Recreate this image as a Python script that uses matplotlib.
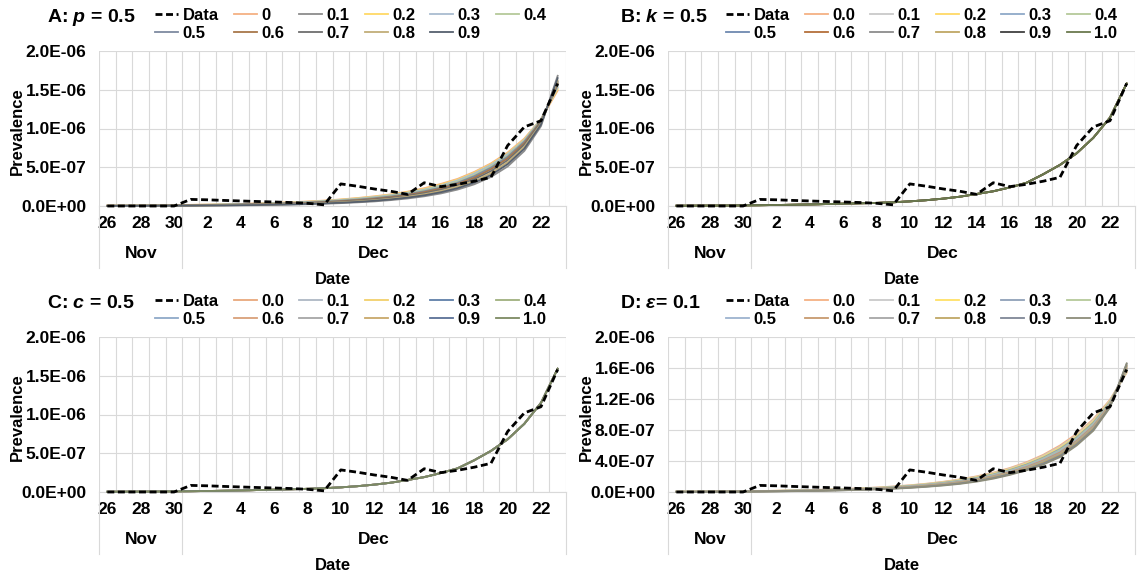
import matplotlib
matplotlib.use("Agg")
import matplotlib.pyplot as plt
from matplotlib import transforms
from matplotlib.ticker import FuncFormatter, MultipleLocator

plt.rcParams['font.family'] = ['Liberation Sans', 'DejaVu Sans']
plt.rcParams['font.weight'] = 'bold'
plt.rcParams['mathtext.fontset'] = 'custom'
plt.rcParams['mathtext.rm'] = 'Liberation Sans:bold'
plt.rcParams['mathtext.it'] = 'Liberation Sans:italic:bold'

# days Nov 26 .. Dec 23, index 0..27
day_labels = ['26', '28', '30', '2', '4', '6', '8', '10', '12', '14', '16', '18', '20', '22']
months = ['Nov', 'Dec']
month_span = [(0, 4), (5, 27)]

# observed prevalence (x 1e-7)
observed = [0, 0, 0, 0, 0, 0.85, 0.8, 0.72, 0.65, 0.58, 0.52, 0.45, 0.35, 0.15,
            2.85, 2.55, 2.2, 1.9, 1.5, 3.0, 2.5, 2.8, 3.2, 3.7, 7.8, 10.2, 11.0, 15.8]

# model runs (x 1e-7)
a_names = ['0', '0.1', '0.2', '0.3', '0.4', '0.5', '0.6', '0.7', '0.8', '0.9']
a_runs = [
    [0.05, 0.06, 0.08, 0.10, 0.12, 0.15, 0.18, 0.22, 0.27, 0.33, 0.40, 0.48, 0.58, 0.70, 0.85, 1.03, 1.25, 1.5, 1.85, 2.3, 2.85, 3.5, 4.4, 5.5, 6.9, 8.7, 11.2, 14.9],
    [0.01, 0.01, 0.02, 0.02, 0.03, 0.04, 0.05, 0.07, 0.09, 0.11, 0.14, 0.18, 0.23, 0.29, 0.37, 0.47, 0.59, 0.76, 0.97, 1.25, 1.62, 2.12, 2.8, 3.75, 5.1, 7.1, 10.3, 16.8],
    [0.04, 0.05, 0.07, 0.09, 0.11, 0.14, 0.17, 0.21, 0.25, 0.31, 0.38, 0.46, 0.55, 0.67, 0.82, 1.0, 1.2, 1.46, 1.8, 2.2, 2.75, 3.4, 4.3, 5.4, 6.8, 8.6, 11.2, 15.1],
    [0.04, 0.05, 0.06, 0.08, 0.10, 0.13, 0.16, 0.19, 0.24, 0.29, 0.36, 0.43, 0.52, 0.64, 0.78, 0.95, 1.15, 1.4, 1.72, 2.12, 2.65, 3.3, 4.2, 5.3, 6.7, 8.5, 11.2, 15.3],
    [0.03, 0.04, 0.06, 0.07, 0.09, 0.12, 0.14, 0.18, 0.22, 0.27, 0.33, 0.40, 0.49, 0.60, 0.73, 0.89, 1.08, 1.32, 1.63, 2.02, 2.52, 3.15, 4.0, 5.1, 6.5, 8.4, 11.1, 15.5],
    [0.03, 0.04, 0.05, 0.06, 0.08, 0.10, 0.13, 0.16, 0.20, 0.25, 0.30, 0.37, 0.45, 0.55, 0.67, 0.82, 1.0, 1.23, 1.53, 1.9, 2.38, 3.0, 3.85, 4.95, 6.35, 8.3, 11.0, 15.6],
    [0.03, 0.03, 0.04, 0.05, 0.07, 0.09, 0.11, 0.14, 0.18, 0.22, 0.27, 0.33, 0.40, 0.49, 0.61, 0.75, 0.92, 1.14, 1.42, 1.78, 2.24, 2.85, 3.65, 4.75, 6.15, 8.1, 10.9, 15.8],
    [0.02, 0.03, 0.04, 0.05, 0.06, 0.08, 0.10, 0.12, 0.15, 0.19, 0.24, 0.29, 0.36, 0.44, 0.55, 0.68, 0.84, 1.05, 1.31, 1.65, 2.1, 2.68, 3.45, 4.5, 5.9, 7.9, 10.8, 16.0],
    [0.02, 0.02, 0.03, 0.04, 0.05, 0.07, 0.08, 0.10, 0.13, 0.16, 0.20, 0.25, 0.31, 0.39, 0.48, 0.60, 0.75, 0.94, 1.19, 1.51, 1.93, 2.48, 3.22, 4.25, 5.65, 7.65, 10.6, 16.2],
    [0.01, 0.02, 0.02, 0.03, 0.04, 0.05, 0.07, 0.08, 0.11, 0.13, 0.17, 0.21, 0.27, 0.34, 0.42, 0.53, 0.67, 0.85, 1.08, 1.38, 1.78, 2.3, 3.02, 4.0, 5.4, 7.4, 10.5, 16.5],
]
a_colors = ['#F4B183', '#8C8C8C', '#FFD966', '#A9BCD0', '#B5C99A', '#7E8AA0',
            '#A8774A', '#6E6E6E', '#C2AE78', '#56606E']

bcd_names = ['0.0', '0.1', '0.2', '0.3', '0.4', '0.5', '0.6', '0.7', '0.8', '0.9', '1.0']
b_model = [0.03, 0.04, 0.05, 0.06, 0.08, 0.10, 0.13, 0.16, 0.20, 0.25, 0.30, 0.35, 0.40, 0.48,
           0.60, 0.75, 0.95, 1.2, 1.55, 1.9, 2.4, 3.0, 4.1, 5.3, 6.8, 8.8, 11.4, 15.8]
b_colors = ['#F4B183', '#C9C9C9', '#FFD966', '#8FA9C8', '#B5C99A', '#6E89B0',
            '#B4703A', '#8C8C8C', '#BFA765', '#404040', '#6B7A4E']

c_model = [0.03, 0.04, 0.05, 0.06, 0.08, 0.10, 0.13, 0.16, 0.20, 0.25, 0.30, 0.35, 0.41, 0.49,
           0.60, 0.75, 0.95, 1.2, 1.55, 1.92, 2.45, 3.05, 4.1, 5.3, 6.8, 8.8, 11.5, 15.9]
c_colors = ['#E8A87C', '#AEB8C4', '#F2D06B', '#5F7FA8', '#9FB07E', '#8FA9C8',
            '#D9A07A', '#A6A6A6', '#C8A86A', '#5B7196', '#7D8A62']

d_runs = [
    [0.04, 0.05, 0.06, 0.08, 0.10, 0.13, 0.16, 0.20, 0.25, 0.31, 0.38, 0.47, 0.58, 0.71, 0.87, 1.07, 1.32, 1.63, 2.02, 2.5, 3.1, 3.85, 4.8, 6.0, 7.5, 9.4, 11.9, 15.4],
    [0.04, 0.05, 0.06, 0.08, 0.10, 0.12, 0.15, 0.19, 0.24, 0.30, 0.37, 0.45, 0.56, 0.69, 0.84, 1.04, 1.28, 1.58, 1.96, 2.43, 3.02, 3.75, 4.68, 5.85, 7.35, 9.25, 11.8, 15.5],
    [0.04, 0.05, 0.06, 0.07, 0.09, 0.12, 0.15, 0.18, 0.23, 0.28, 0.35, 0.43, 0.53, 0.66, 0.81, 1.0, 1.24, 1.53, 1.9, 2.36, 2.93, 3.65, 4.56, 5.7, 7.2, 9.1, 11.7, 15.6],
    [0.03, 0.04, 0.05, 0.07, 0.09, 0.11, 0.14, 0.17, 0.22, 0.27, 0.33, 0.41, 0.51, 0.63, 0.78, 0.96, 1.19, 1.47, 1.83, 2.28, 2.84, 3.55, 4.44, 5.55, 7.05, 8.95, 11.6, 15.7],
    [0.03, 0.04, 0.05, 0.06, 0.08, 0.11, 0.13, 0.17, 0.21, 0.26, 0.32, 0.39, 0.49, 0.60, 0.75, 0.92, 1.14, 1.41, 1.76, 2.2, 2.75, 3.45, 4.32, 5.4, 6.9, 8.8, 11.5, 15.8],
    [0.03, 0.04, 0.05, 0.06, 0.08, 0.10, 0.13, 0.16, 0.20, 0.25, 0.30, 0.37, 0.46, 0.57, 0.71, 0.88, 1.09, 1.35, 1.69, 2.12, 2.66, 3.34, 4.2, 5.25, 6.75, 8.65, 11.4, 15.9],
    [0.03, 0.03, 0.04, 0.06, 0.07, 0.09, 0.12, 0.15, 0.19, 0.23, 0.29, 0.35, 0.44, 0.54, 0.67, 0.84, 1.04, 1.29, 1.62, 2.04, 2.57, 3.23, 4.07, 5.1, 6.6, 8.5, 11.3, 16.0],
    [0.02, 0.03, 0.04, 0.05, 0.07, 0.09, 0.11, 0.14, 0.17, 0.22, 0.27, 0.33, 0.41, 0.51, 0.64, 0.79, 0.99, 1.23, 1.55, 1.96, 2.48, 3.12, 3.94, 4.95, 6.45, 8.35, 11.2, 16.2],
    [0.02, 0.03, 0.04, 0.05, 0.06, 0.08, 0.10, 0.13, 0.16, 0.20, 0.25, 0.31, 0.39, 0.48, 0.60, 0.75, 0.94, 1.17, 1.48, 1.88, 2.39, 3.01, 3.81, 4.8, 6.3, 8.2, 11.1, 16.3],
    [0.02, 0.02, 0.03, 0.04, 0.05, 0.07, 0.09, 0.12, 0.15, 0.19, 0.23, 0.29, 0.36, 0.45, 0.57, 0.71, 0.89, 1.11, 1.41, 1.8, 2.3, 2.9, 3.68, 4.65, 6.15, 8.05, 11.0, 16.5],
    [0.02, 0.02, 0.03, 0.04, 0.05, 0.06, 0.08, 0.11, 0.14, 0.17, 0.22, 0.27, 0.34, 0.42, 0.53, 0.67, 0.84, 1.05, 1.34, 1.72, 2.21, 2.8, 3.55, 4.5, 6.0, 7.9, 10.9, 16.6],
]
d_colors = ['#F4B183', '#C9C9C9', '#FFE066', '#8FA0B8', '#B5C99A', '#9DB3CF',
            '#C79A6E', '#A6A6A6', '#BFA765', '#7F8796', '#8C8C7A']

W, H = 1137, 578
fig = plt.figure(figsize=(W / 100, H / 100), dpi=100)
x = list(range(len(observed)))


def row_major(items, ncol):
    # excel fills legend rows first, matplotlib fills columns first
    nrow = (len(items) + ncol - 1) // ncol
    out = []
    for c in range(ncol):
        for r in range(nrow):
            k = r * ncol + c
            if k < len(items):
                out.append(items[k])
    return out


def panel(left, top, runs, names, colors, ystep, title, title_x, leg_x):
    ax = fig.add_axes([left / W, 1 - (top + 155) / H, 467 / W, 155 / H])
    handles = []
    for vals, c in zip(runs, colors):
        h, = ax.plot(x, [v * 1e-7 for v in vals], color=c, lw=1.3, clip_on=False, zorder=3)
        handles.append(h)
    hd, = ax.plot(x, [v * 1e-7 for v in observed], color='black', lw=2.0,
                  dashes=(2.5, 1.3), clip_on=False, zorder=5)
    ax.set_xlim(-0.5, 27.5)
    ax.set_ylim(0, 2e-6)
    ax.yaxis.set_major_locator(MultipleLocator(ystep))
    ax.yaxis.set_major_formatter(FuncFormatter(lambda v, p: f"{v:.1E}"))
    ax.set_xticks(range(0, 28, 2))
    ax.set_xticklabels(day_labels)
    ax.set_xticks([k - 0.5 for k in range(29)], minor=True)
    ax.tick_params(axis='both', which='both', length=0, labelsize=12.5)
    ax.tick_params(axis='y', pad=9)
    ax.tick_params(axis='x', pad=7)
    ax.grid(True, axis='y', which='major', color='#D9D9D9', lw=0.8)
    ax.grid(True, axis='x', which='minor', color='#D9D9D9', lw=0.8)
    for s in ['top', 'right', 'left']:
        ax.spines[s].set_visible(False)
    ax.spines['bottom'].set_color('#D9D9D9')
    ax.set_axisbelow(True)

    tr = transforms.blended_transform_factory(ax.transData, ax.transAxes)
    for (a, b), m in zip(month_span, months):
        ax.text((a + b) / 2, -47 / 155, m, transform=tr, ha='center', va='center', fontsize=12.5)
    for xs in [-0.5, 4.5, 27.5]:
        ax.plot([xs, xs], [0, -62 / 155], transform=tr, color='#D9D9D9', lw=0.8, clip_on=False)
    ax.text(0.5, -73 / 155, 'Date', transform=ax.transAxes, ha='center', va='center', fontsize=12)
    fig.text((left - 82) / W, 1 - (top + 80) / H, 'Prevalence', rotation=90,
             ha='center', va='center', fontsize=12)
    fig.text(title_x / W, 1 - (top - 33) / H, title, ha='left', va='center', fontsize=14)

    labels = ['Data'] + names
    hs = row_major([hd] + handles, 6)
    ls = row_major(labels, 6)
    fig.legend(hs, ls, loc='upper left', bbox_to_anchor=(leg_x / W, 1 - (top - 43) / H),
               ncol=6, frameon=False, fontsize=12, handlelength=1.4, handletextpad=0.25,
               columnspacing=0.9, labelspacing=0.15, borderpad=0, borderaxespad=0)
    return ax


panel(99, 51, a_runs, a_names, a_colors, 5e-7, r'A: $p$ = 0.5', 47, 155)
panel(668, 51, [b_model] * 11, bcd_names, b_colors, 5e-7, r'B: $k$ = 0.5', 620, 726)
panel(99, 337, [c_model] * 11, bcd_names, c_colors, 5e-7, r'C: $c$ = 0.5', 47, 155)
panel(668, 337, d_runs, bcd_names, d_colors, 4e-7, r'D: $\varepsilon$= 0.1', 620, 726)

fig.savefig('out.png', dpi=100)
